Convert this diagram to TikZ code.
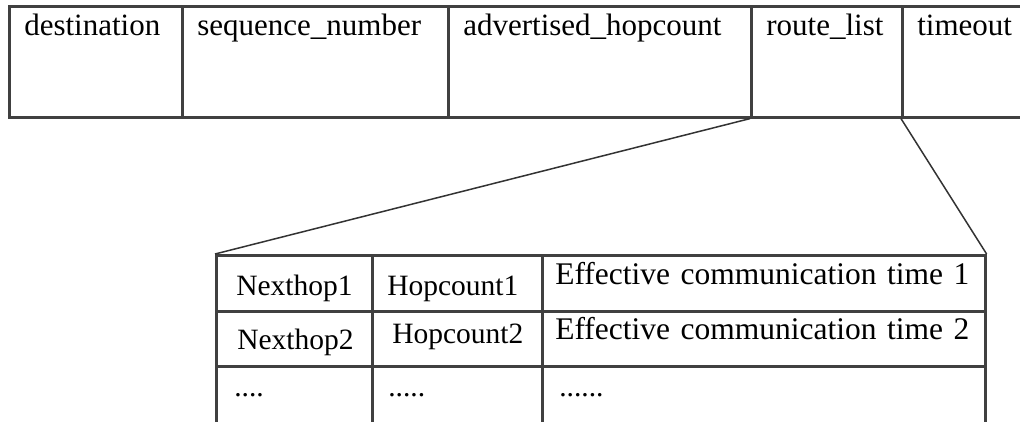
\documentclass[tikz,border=0pt]{standalone}
\usepackage{fontspec}
\setmainfont{Liberation Serif}

\def\topsize{\fontsize{31}{36}\selectfont}
\def\botsize{\fontsize{29.5}{34}\selectfont}
\def\widesize{\fontsize{31.5}{36}\selectfont}

\begin{document}
\begin{tikzpicture}[x=1pt,y=-1pt,
	field/.style={draw=black!75,line width=2.6pt,anchor=north west,inner xsep=15pt,inner ysep=0pt,
		align=left,font=\topsize,text height=29pt,text depth=82pt},
	entry/.style={draw=black!75,line width=2.6pt,anchor=north west,inner ysep=0pt,align=left,font=\botsize},
	link/.style={color=black!80,line width=1.5pt}]
\useasboundingbox (0,0) rectangle (1020,421);
\clip (0,0) rectangle (1020,421);

% routing table entry
\node[field,text width=143pt] (dest) at (8,5) {destination};
\node[field,text width=236pt] (seq) at (181,5) {sequence\_number};
\node[field,text width=273pt] (adv) at (447,5) {advertised\_hopcount};
\node[field,text width=121pt] (route) at (750,5) {route\_list};
\node[field,text width=170pt] (timeout) at (901,5) {timeout};

% route list
\node[entry,inner xsep=20pt,text width=116pt,text height=40pt,text depth=16pt] (nh1) at (215,254) {Nexthop1};
\node[entry,inner xsep=15pt,text width=140pt,text height=40pt,text depth=16pt] (hc1) at (371,254) {Hopcount1};
\node[entry,inner xsep=13pt,text width=417pt,text height=29pt,text depth=27pt,font=\widesize] (ect1) at (541,254) {Effective communication time 1};

\node[entry,inner xsep=21pt,text width=114pt,text height=38pt,text depth=17pt] (nh2) at (215,310) {Nexthop2};
\node[entry,inner xsep=20pt,text width=130pt,text height=32pt,text depth=23pt] (hc2) at (371,310) {Hopcount2};
\node[entry,inner xsep=13pt,text width=417pt,text height=28pt,text depth=27pt,font=\widesize] (ect2) at (541,310) {Effective communication time 2};

\node[entry,inner xsep=18pt,text width=120pt,text height=30pt,text depth=70pt] (nh3) at (215,365) {....};
\node[entry,inner xsep=16pt,text width=138pt,text height=30pt,text depth=70pt] (hc3) at (371,365) {.....};
\node[entry,inner xsep=17pt,text width=409pt,text height=30pt,text depth=70pt] (ect3) at (541,365) {......};

\draw[link] (route.south west) -- (nh1.north west);
\draw[link] (timeout.south west) -- (ect1.north east);

\end{tikzpicture}
\end{document}
